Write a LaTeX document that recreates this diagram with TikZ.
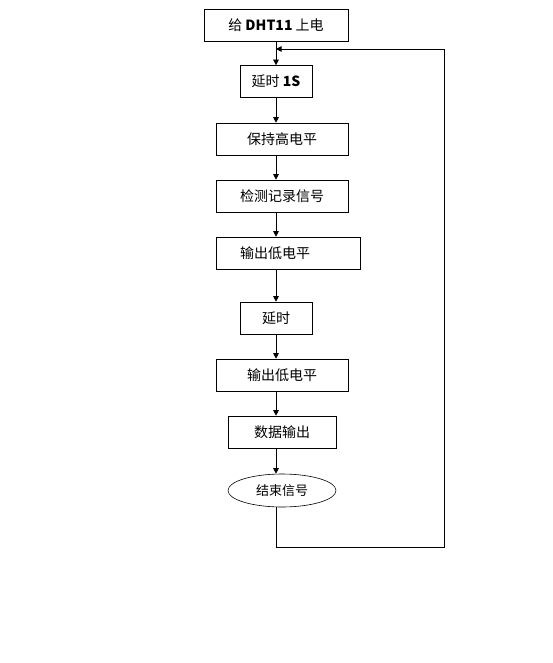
\documentclass[tikz,border=0pt]{standalone}
\usepackage{fontspec}
\setmainfont{Liberation Sans}
\newfontfamily\cjk{Noto Sans CJK SC}
\usetikzlibrary{arrows.meta, calc, shapes.geometric}

\begin{document}
\begin{tikzpicture}[x=1pt, y=-1pt, line width=0.6pt, >={Triangle[length=5.5pt,width=5.5pt]},
  stepbox/.style={draw, rectangle, minimum height=32, inner sep=0pt, font=\cjk\fontsize{14}{16}\selectfont},
  endbox/.style={draw, ellipse, minimum width=108, minimum height=33, inner sep=0pt, font=\cjk\fontsize{13}{15}\selectfont}]
  \useasboundingbox (0,0) rectangle (552,663);

  % Steps
  \node[stepbox, minimum width=144] (power) at (276,25) {给 \textbf{DHT11} 上电};
  \node[stepbox, minimum width=72] (wait1s) at (276,81.5) {延时 \textbf{1S}};
  \node[stepbox, minimum width=132] (high) at (282,139) {保持高电平};
  \node[stepbox, minimum width=132] (detect) at (282,196) {检测记录信号};
  \node[stepbox, minimum width=144] (lowa) at (288,253) {\hspace*{-26pt}输出低电平};
  \node[stepbox, minimum width=72] (wait) at (276,318) {延时};
  \node[stepbox, minimum width=132] (lowb) at (282,375) {输出低电平};
  \node[stepbox, minimum width=108] (data) at (282,432) {数据输出};
  \node[endbox] (done) at (282,490.5) {结束信号};

  % Main arrows
  \coordinate (join) at (276,49);
  \draw[->] (power.south) -- (wait1s.north);
  \draw[->] (wait1s.south) -- (wait1s.south |- high.north);
  \draw[->] (wait1s.south |- high.south) -- (wait1s.south |- detect.north);
  \draw[->] (wait1s.south |- detect.south) -- (wait1s.south |- lowa.north);
  \draw[->] (wait1s.south |- lowa.south) -- (wait.north);
  \draw[->] (wait.south) -- (wait.south |- lowb.north);
  \draw[->] (wait.south |- lowb.south) -- (wait.south |- data.north);
  \draw[->] (wait.south |- data.south) -- (wait.south |- done.north);

  % Loop back
  \draw[->] (wait.south |- done.south) -- (276,547) -- (444,547) -- (444,49) -- (join);
\end{tikzpicture}
\end{document}
